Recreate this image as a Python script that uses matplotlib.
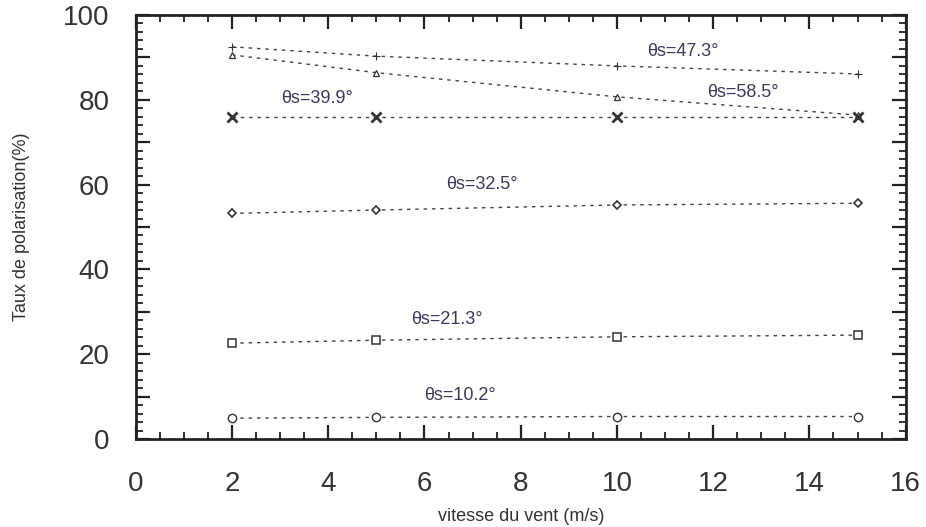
import numpy as np
import matplotlib
matplotlib.use("Agg")
import matplotlib.pyplot as plt
from matplotlib.ticker import MultipleLocator, FuncFormatter

#************************************
''' Data read off the figure '''
#************************************
vent = [2, 5, 10, 15]

taux_47 = [92.5, 90.3, 88.0, 86.1]
taux_58 = [90.6, 86.4, 80.7, 76.4]
taux_39 = [76.0, 76.0, 76.0, 76.0]
taux_32 = [53.2, 54.0, 55.2, 55.6]
taux_21 = [22.6, 23.3, 24.1, 24.5]
taux_10 = [4.9, 5.1, 5.3, 5.3]

labels = ["\u03b8s=47.3\u00b0", "\u03b8s=58.5\u00b0", "\u03b8s=39.9\u00b0",
          "\u03b8s=32.5\u00b0", "\u03b8s=21.3\u00b0", "\u03b8s=10.2\u00b0"]
label_x = [11.38, 12.62, 3.77, 7.2, 6.47, 6.74]
label_y = [91.3, 81.8, 80.4, 60.0, 28.1, 10.2]

#************************************
''' Plot '''
#************************************
plt.rcParams['font.family'] = ['Liberation Sans', 'DejaVu Sans']

fig = plt.figure(figsize=(9.26, 5.27), dpi=100)
ax = fig.add_axes([0.1466, 0.167, 0.8314, 0.8045])

ls = (0, (2.5, 3.5))
lc = '#444444'
series = [
    (taux_47, '+', 6, 0.8, lc),
    (taux_58, '^', 5, 0.9, 'none'),
    (taux_39, 'x', 7, 2.0, lc),
    (taux_32, 'D', 4.5, 1.2, 'none'),
    (taux_21, 's', 6, 1.1, 'none'),
    (taux_10, 'o', 6, 1.0, 'none'),
]
for y, m, ms, mew, fc in series:
    ax.plot(vent, y, linestyle=ls, color=lc, linewidth=1.0, marker=m,
            markersize=ms, markeredgewidth=mew, markerfacecolor='white' if fc == 'none' else fc,
            markeredgecolor='#333333', zorder=2)

for t, tx, ty in zip(labels, label_x, label_y):
    ax.text(tx, ty, t, ha='center', va='center', fontsize=13, color='#3a3a5c',
            bbox=dict(facecolor='white', edgecolor='none', pad=1.0), zorder=3)

ax.set_xlim(0, 16)
ax.set_ylim(0, 100)
ax.xaxis.set_major_locator(MultipleLocator(2))
ax.xaxis.set_minor_locator(MultipleLocator(0.5))
ax.yaxis.set_major_locator(MultipleLocator(10))
ax.yaxis.set_minor_locator(MultipleLocator(2))
ax.yaxis.set_major_formatter(FuncFormatter(lambda v, p: "%d" % v if int(round(v)) % 20 == 0 else ""))

ax.tick_params(which='both', direction='in', top=True, right=True, color='#222222')
ax.tick_params(which='major', length=10, width=1.6, labelsize=20, pad=19, labelcolor='#333333')
ax.tick_params(which='minor', length=5, width=1.3)
ax.tick_params(axis='x', which='major', pad=23)
for s in ax.spines.values():
    s.set_linewidth(2.0)
    s.set_color('#222222')

ax.set_xlabel('vitesse du vent (m/s)', fontsize=13, labelpad=8, color='#333333')
ax.set_ylabel('Taux de polarisation(%)', fontsize=13, labelpad=24, color='#333333')

fig.savefig('out.png', dpi=100)
plt.close()
